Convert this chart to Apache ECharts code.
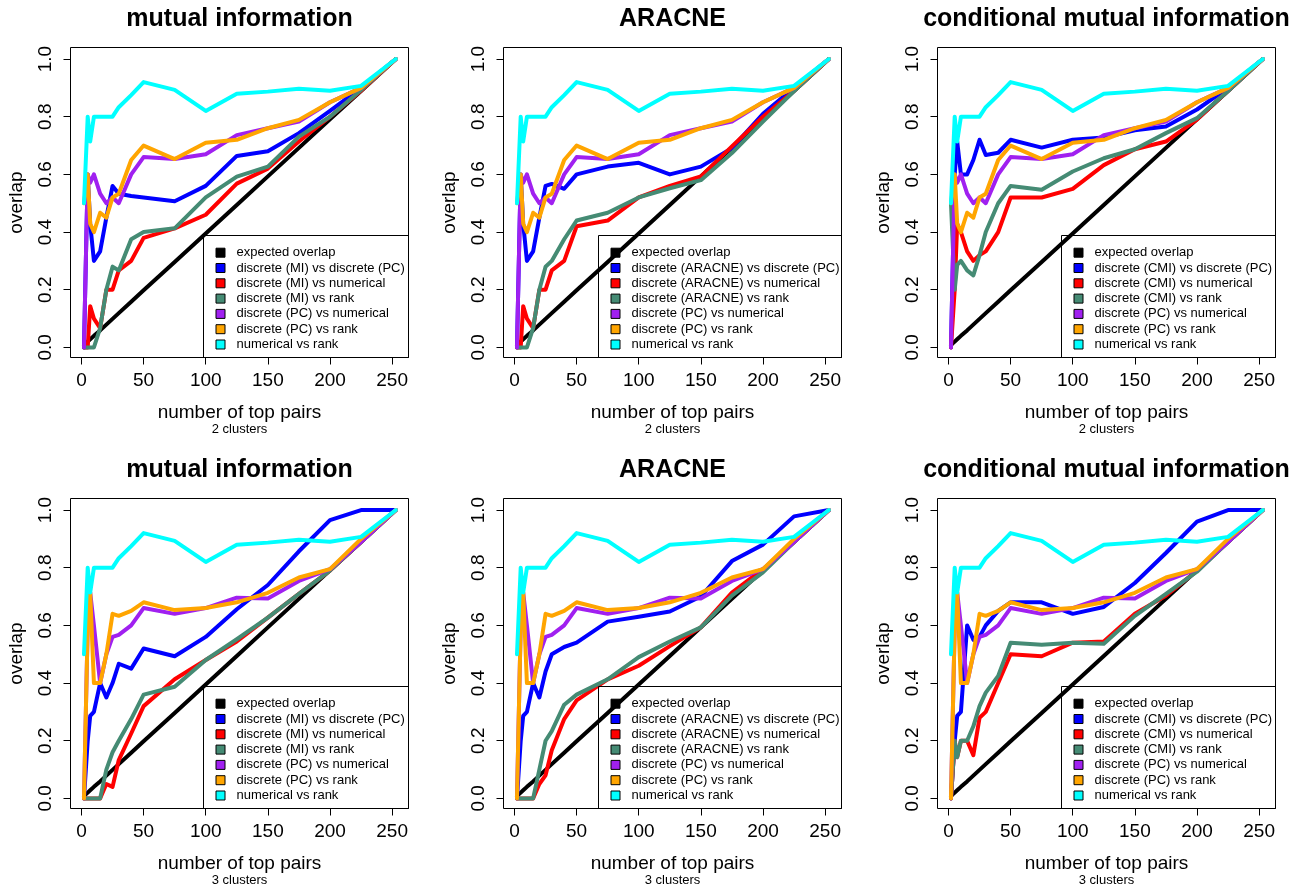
<!DOCTYPE html>
<html><head><meta charset="utf-8">
<script src="https://cdn.jsdelivr.net/npm/echarts@6/dist/echarts.min.js"></script>
<style>html,body{margin:0;padding:0;background:#fff}#chart{width:1306px;height:886px}</style>
</head><body><div id="chart"></div>
<script>
// ---------- data ----------
const topPairs = [2, 5, 7, 10, 15, 20, 25, 30, 40, 50, 75, 100, 125, 150, 175, 200, 225, 253];
const xTicks = [0, 50, 100, 150, 200, 250];
const yTicks = [0, 0.2, 0.4, 0.6, 0.8, 1.0];

const expectedOverlap = [0.008, 0.02, 0.028, 0.04, 0.059, 0.079, 0.099, 0.119, 0.158, 0.198, 0.296, 0.395, 0.494, 0.593, 0.692, 0.791, 0.889, 1.0];
const numericalVsRank = [0.5, 0.8, 0.714, 0.8, 0.8, 0.8, 0.8, 0.833, 0.875, 0.92, 0.893, 0.82, 0.88, 0.887, 0.897, 0.89, 0.907, 1.0];

// 2 clusters
const pcVsNum2  = [0, 0.6, 0.571, 0.6, 0.533, 0.5, 0.52, 0.5, 0.6, 0.66, 0.653, 0.67, 0.736, 0.76, 0.783, 0.85, 0.9, 1.0];
const pcVsRank2 = [0.5, 0.6, 0.429, 0.4, 0.467, 0.45, 0.52, 0.533, 0.65, 0.7, 0.653, 0.71, 0.72, 0.76, 0.789, 0.85, 0.9, 1.0];
const mi2VsPC   = [0, 0.6, 0.429, 0.3, 0.333, 0.45, 0.56, 0.533, 0.525, 0.52, 0.507, 0.56, 0.664, 0.68, 0.743, 0.82, 0.9, 1.0];
const mi2VsNum  = [0, 0, 0.143, 0.1, 0.067, 0.2, 0.2, 0.267, 0.3, 0.38, 0.413, 0.46, 0.568, 0.62, 0.714, 0.8, 0.89, 1.0];
const mi2VsRank = [0, 0, 0, 0, 0.067, 0.2, 0.28, 0.267, 0.375, 0.4, 0.413, 0.52, 0.592, 0.627, 0.731, 0.8, 0.893, 1.0];
const ar2VsPC   = [0, 0.6, 0.429, 0.3, 0.333, 0.45, 0.56, 0.567, 0.55, 0.6, 0.627, 0.64, 0.6, 0.627, 0.691, 0.81, 0.9, 1.0];
const ar2VsNum  = [0, 0, 0.143, 0.1, 0.067, 0.2, 0.2, 0.267, 0.3, 0.42, 0.44, 0.52, 0.56, 0.593, 0.697, 0.8, 0.89, 1.0];
const ar2VsRank = [0, 0, 0, 0, 0.067, 0.2, 0.28, 0.3, 0.375, 0.44, 0.467, 0.52, 0.552, 0.58, 0.674, 0.783, 0.889, 1.0];
const cmi2VsPC  = [0, 0.6, 0.714, 0.6, 0.6, 0.65, 0.72, 0.667, 0.675, 0.72, 0.693, 0.72, 0.728, 0.753, 0.766, 0.825, 0.9, 1.0];
const cmi2VsNum = [0, 0.2, 0.429, 0.4, 0.333, 0.3, 0.32, 0.333, 0.4, 0.52, 0.52, 0.55, 0.632, 0.687, 0.714, 0.79, 0.89, 1.0];
const cmi2VsRank= [0.5, 0.2, 0.286, 0.3, 0.267, 0.25, 0.32, 0.4, 0.5, 0.56, 0.547, 0.61, 0.656, 0.687, 0.743, 0.795, 0.889, 1.0];

// 3 clusters
const pcVsNum3  = [0, 0.6, 0.714, 0.6, 0.4, 0.5, 0.56, 0.567, 0.6, 0.66, 0.64, 0.66, 0.696, 0.693, 0.754, 0.795, 0.889, 1.0];
const pcVsRank3 = [0, 0.6, 0.714, 0.4, 0.4, 0.5, 0.64, 0.633, 0.65, 0.68, 0.653, 0.66, 0.68, 0.713, 0.766, 0.795, 0.9, 1.0];
const mi3VsPC   = [0, 0.2, 0.286, 0.3, 0.4, 0.35, 0.4, 0.467, 0.45, 0.52, 0.493, 0.56, 0.656, 0.74, 0.857, 0.965, 1.0, 1.0];
const mi3VsNum  = [0, 0, 0, 0, 0, 0.05, 0.04, 0.133, 0.225, 0.32, 0.413, 0.48, 0.544, 0.627, 0.709, 0.79, 0.889, 1.0];
const mi3VsRank = [0, 0, 0, 0, 0, 0.1, 0.16, 0.2, 0.275, 0.36, 0.387, 0.48, 0.552, 0.627, 0.709, 0.79, 0.889, 1.0];
const ar3VsPC   = [0, 0.2, 0.286, 0.3, 0.4, 0.35, 0.44, 0.5, 0.525, 0.54, 0.613, 0.63, 0.648, 0.7, 0.823, 0.88, 0.978, 1.0];
const ar3VsNum  = [0, 0, 0, 0, 0, 0.05, 0.08, 0.167, 0.275, 0.34, 0.413, 0.46, 0.528, 0.593, 0.714, 0.795, 0.889, 1.0];
const ar3VsRank = [0, 0, 0, 0, 0, 0.1, 0.2, 0.233, 0.325, 0.36, 0.413, 0.49, 0.544, 0.593, 0.703, 0.784, 0.889, 1.0];
const cmi3VsPC  = [0, 0.2, 0.286, 0.3, 0.6, 0.55, 0.56, 0.6, 0.65, 0.68, 0.68, 0.64, 0.664, 0.747, 0.851, 0.96, 1.0, 1.0];
const cmi3VsNum = [0, 0.2, 0.143, 0.2, 0.2, 0.15, 0.28, 0.3, 0.4, 0.5, 0.493, 0.54, 0.544, 0.64, 0.703, 0.79, 0.889, 1.0];
const cmi3VsRank= [0, 0.2, 0.143, 0.2, 0.2, 0.25, 0.32, 0.367, 0.425, 0.54, 0.533, 0.54, 0.536, 0.633, 0.709, 0.786, 0.889, 1.0];

const methodTitles = ['mutual information', 'ARACNE', 'conditional mutual information'];
const methodAbbr = ['MI', 'ARACNE', 'CMI'];
const clusterLabels = ['2 clusters', '3 clusters'];
const xAxisTitle = 'number of top pairs';
const yAxisTitle = 'overlap';

const panels = [
  [mi2VsPC, mi2VsNum, mi2VsRank, pcVsNum2, pcVsRank2],
  [ar2VsPC, ar2VsNum, ar2VsRank, pcVsNum2, pcVsRank2],
  [cmi2VsPC, cmi2VsNum, cmi2VsRank, pcVsNum2, pcVsRank2],
  [mi3VsPC, mi3VsNum, mi3VsRank, pcVsNum3, pcVsRank3],
  [ar3VsPC, ar3VsNum, ar3VsRank, pcVsNum3, pcVsRank3],
  [cmi3VsPC, cmi3VsNum, cmi3VsRank, pcVsNum3, pcVsRank3]
];

// ---------- styling / layout ----------
const FONT = '"Liberation Sans", Arial, Helvetica, sans-serif';
const colors = ['#000000', '#0000FF', '#FF0000', '#458B74', '#A020F0', '#FFA500', '#00FFFF'];
const gridLeft = [70.5, 503.5, 937.5];
const gridTop = [47.5, 498.5];
const GW = 338, GH = 310;
const legendBoxLeft = [203.5, 598.5, 1061.5];
const legendBoxTopOff = 188;

const grids = [], xAxes = [], yAxes = [], series = [], titles = [], legends = [], graphics = [];

for (let p = 0; p < 6; p++) {
  const col = p % 3, row = Math.floor(p / 3);
  const L = gridLeft[col], T = gridTop[row];
  const abbr = methodAbbr[col];
  grids.push({left: L, top: T, width: GW, height: GH, show: true, borderColor: '#000', borderWidth: 1,
    backgroundColor: 'transparent', containLabel: false, outerBoundsMode: 'none'});
  xAxes.push({
    gridIndex: p, type: 'value', min: -8.85, max: 263.2, position: 'bottom',
    axisLine: {show: false, onZero: false}, splitLine: {show: false},
    axisTick: {show: true, inside: false, length: 7, lineStyle: {color: '#000', width: 1}, customValues: xTicks},
    axisLabel: {customValues: xTicks, margin: 13.5, fontSize: 19, color: '#000', fontFamily: FONT},
    name: xAxisTitle, nameLocation: 'middle', nameGap: 46, nameMoveOverlap: false,
    nameTextStyle: {fontSize: 19, color: '#000', fontFamily: FONT}
  });
  yAxes.push({
    gridIndex: p, type: 'value', min: -0.035, max: 1.04, position: 'left',
    axisLine: {show: false, onZero: false}, splitLine: {show: false},
    axisTick: {show: true, inside: false, length: 7, lineStyle: {color: '#000', width: 1}, customValues: yTicks},
    axisLabel: {customValues: yTicks, rotate: 90, margin: 15, fontSize: 19, color: '#000', fontFamily: FONT,
      formatter: v => Number(v).toFixed(1)},
    name: yAxisTitle, nameLocation: 'middle', nameGap: 44, nameMoveOverlap: false,
    nameTextStyle: {fontSize: 19, color: '#000', fontFamily: FONT}
  });
  const names = [
    'expected overlap',
    'discrete (' + abbr + ') vs discrete (PC)',
    'discrete (' + abbr + ') vs numerical',
    'discrete (' + abbr + ') vs rank',
    'discrete (PC) vs numerical',
    'discrete (PC) vs rank',
    'numerical vs rank'
  ];
  const vals = [expectedOverlap].concat(panels[p]).concat([numericalVsRank]);
  vals.forEach((arr, k) => {
    series.push({
      type: 'line', name: names[k], xAxisIndex: p, yAxisIndex: p,
      data: topPairs.map((x, i) => [x, arr[i]]),
      symbol: 'none', showSymbol: false, silent: true,
      lineStyle: {color: colors[k], width: 4, cap: 'round', join: 'round'},
      itemStyle: {color: colors[k]},
      emphasis: {disabled: true}
    });
  });
  const cx = L + GW / 2;
  titles.push({text: methodTitles[col], left: cx, top: T - 40.5, textAlign: 'center', padding: 0,
    textStyle: {fontSize: 25, fontWeight: 'bold', color: '#000', fontFamily: FONT}});
  titles.push({text: clusterLabels[row], left: cx, top: T + 375.5, textAlign: 'center', padding: 0,
    textStyle: {fontSize: 13, fontWeight: 'normal', color: '#000', fontFamily: FONT}});
  const bx = legendBoxLeft[col], by = T + legendBoxTopOff;
  graphics.push({type: 'rect', silent: true, z: 100,
    shape: {x: bx, y: by, width: L + GW - bx, height: T + GH - by},
    style: {fill: null, stroke: '#000', lineWidth: 1}});
  legends.push({
    show: true, orient: 'vertical', left: bx + 12, top: by + 10.7, padding: 0,
    itemWidth: 9, itemHeight: 9, itemGap: 2.3, icon: 'rect', selectedMode: false,
    itemStyle: {borderColor: '#000', borderWidth: 1},
    textStyle: {fontSize: 13, color: '#000', fontFamily: FONT, padding: [0, 0, 0, 6.5]},
    data: names
  });
}

const chart = echarts.init(document.getElementById('chart'), null, {renderer: 'canvas'});
chart.setOption({
  animation: false,
  backgroundColor: '#ffffff',
  title: titles,
  legend: legends,
  grid: grids,
  xAxis: xAxes,
  yAxis: yAxes,
  series: series,
  graphic: {elements: graphics}
});
</script></body></html>
